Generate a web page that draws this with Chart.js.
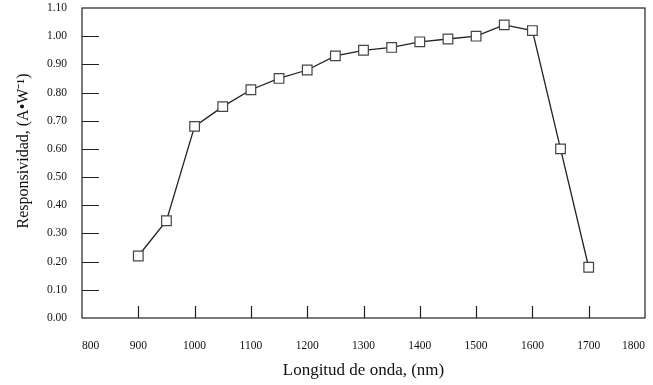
<!DOCTYPE html>
<html>
<head>
<meta charset="utf-8">
<script src="https://cdn.jsdelivr.net/npm/chart.js@4"></script>
<style>
  html, body { margin: 0; padding: 0; background: #fff; }
  #wrap { width: 653px; height: 385px; }
</style>
</head>
<body>
<div id="wrap"><canvas id="chart"></canvas></div>
<script>
const wavelengths = [900, 950, 1000, 1050, 1100, 1150, 1200, 1250, 1300, 1350, 1400, 1450, 1500, 1550, 1600, 1650, 1700];
const responsivity = [0.22, 0.345, 0.68, 0.75, 0.81, 0.85, 0.88, 0.93, 0.95, 0.96, 0.98, 0.99, 1.00, 1.04, 1.02, 0.60, 0.18];
const xTicks = [800, 900, 1000, 1100, 1200, 1300, 1400, 1500, 1600, 1700, 1800];
const yTicks = [0, 0.1, 0.2, 0.3, 0.4, 0.5, 0.6, 0.7, 0.8, 0.9, 1.0, 1.1];

const serif = 'Liberation Serif, Times New Roman, serif';

// frame + inner tick marks, like the original plot
const framePlugin = {
  id: 'frame',
  afterDatasetsDraw(chart) {
    const { ctx, chartArea: a, scales } = chart;
    ctx.save();
    ctx.strokeStyle = '#222';
    ctx.lineWidth = 1.2;
    ctx.beginPath();
    yTicks.slice(1, -1).forEach(v => {
      const y = Math.round(scales.y.getPixelForValue(v)) + 0.5;
      ctx.moveTo(a.left, y);
      ctx.lineTo(a.left + 17, y);
    });
    xTicks.slice(1, -1).forEach(v => {
      const x = Math.round(scales.x.getPixelForValue(v)) + 0.5;
      ctx.moveTo(x, a.bottom);
      ctx.lineTo(x, a.bottom - 12);
    });
    ctx.stroke();
    ctx.strokeRect(a.left, a.top, a.right - a.left, a.bottom - a.top);
    ctx.restore();
  }
};

new Chart(document.getElementById('chart'), {
  type: 'line',
  data: {
    datasets: [{
      data: wavelengths.map((w, i) => ({ x: w, y: responsivity[i] })),
      borderColor: '#222',
      borderWidth: 1.3,
      pointStyle: 'rect',
      pointRadius: 6.8,
      pointBackgroundColor: '#fff',
      pointBorderColor: '#444',
      pointBorderWidth: 1.2,
      tension: 0
    }]
  },
  options: {
    responsive: true,
    maintainAspectRatio: false,
    animation: false,
    layout: { padding: { top: 7, right: 8, left: 0, bottom: 0 } },
    plugins: { legend: { display: false }, tooltip: { enabled: false } },
    scales: {
      x: {
        type: 'linear',
        min: 800,
        max: 1800,
        afterBuildTicks: s => { s.ticks = xTicks.map(v => ({ value: v })); },
        afterFit: s => { s.height = 67; s.paddingLeft = 0; s.paddingRight = 0; },
        grid: { display: false, drawTicks: false },
        border: { display: false },
        ticks: {
          padding: 21,
          color: '#111',
          font: { family: serif, size: 11.5 },
          maxRotation: 0,
          autoSkip: false,
          align: 'inner',
          callback: v => String(v)
        },
        title: {
          display: true,
          text: 'Longitud de onda, (nm)',
          color: '#111',
          font: { family: serif, size: 17 },
          padding: { top: 0, bottom: 4 }
        }
      },
      y: {
        min: 0,
        max: 1.1,
        afterBuildTicks: s => { s.ticks = yTicks.map(v => ({ value: v })); },
        afterFit: s => { s.width = 82; s.paddingTop = 0; s.paddingBottom = 0; },
        grid: { display: false, drawTicks: false },
        border: { display: false },
        ticks: {
          padding: 15,
          color: '#111',
          font: { family: serif, size: 11.5 },
          callback: v => v.toFixed(2)
        },
        title: {
          display: true,
          text: '\u00a0\u00a0\u00a0\u00a0\u00a0\u00a0Responsividad, (A•W⁻¹)',
          color: '#111',
          font: { family: serif, size: 16 },
          padding: { top: 14, bottom: 0 }
        }
      }
    }
  },
  plugins: [framePlugin]
});
</script>
</body>
</html>
